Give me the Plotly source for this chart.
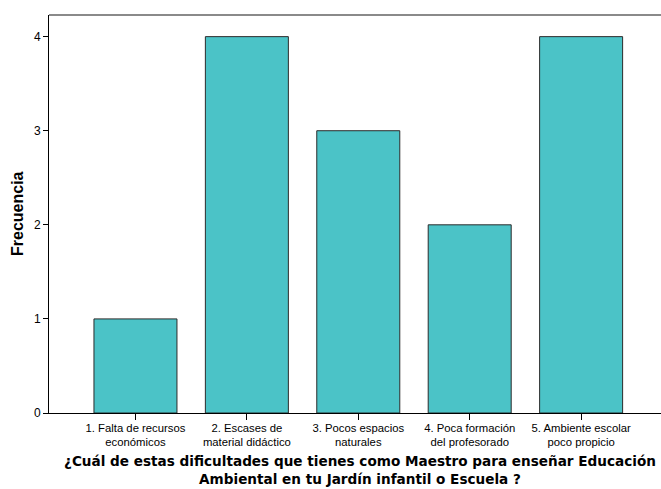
import plotly.graph_objects as go

categories = [
    "1. Falta de recursos<br>económicos",
    "2. Escases de<br>material didáctico",
    "3. Pocos espacios<br>naturales",
    "4. Poca formación<br>del profesorado",
    "5. Ambiente escolar<br>poco propicio",
]
frecuencia = [1, 4, 3, 2, 4]
y_ticks = [0, 1, 2, 3, 4]

x_title = "¿Cuál de estas dificultades que tienes como Maestro para enseñar Educación<br>Ambiental en tu Jardín infantil o Escuela ?"
y_title = "Frecuencia"

W, H = 661, 489
ML, MR, MT, MB = 49, 0, 15, 76
PW = W - ML - MR

fig = go.Figure(
    go.Bar(
        x=list(range(len(categories))),
        y=frecuencia,
        width=0.745,
        marker=dict(color="#4BC3C7", line=dict(color="#2b2b2b", width=1)),
        hoverinfo="skip",
    )
)

fig.update_layout(
    width=W,
    height=H,
    margin=dict(l=ML, r=MR, t=MT, b=MB, pad=0),
    paper_bgcolor="white",
    plot_bgcolor="white",
    showlegend=False,
    font=dict(family="Liberation Sans, Arial, sans-serif", color="black"),
    xaxis=dict(
        range=[-0.776, 4.717],
        tickmode="array",
        tickvals=list(range(len(categories))),
        ticktext=categories,
        ticks="outside",
        ticklen=6,
        tickwidth=1,
        tickcolor="black",
        ticklabelstandoff=-2,
        showline=True,
        linecolor="black",
        linewidth=1,
        showgrid=False,
        zeroline=False,
        tickfont=dict(size=11.3, family="Liberation Sans, Arial, sans-serif"),
        fixedrange=True,
    ),
    yaxis=dict(
        range=[0, 4.23],
        tickmode="array",
        tickvals=y_ticks,
        ticktext=[str(v) for v in y_ticks],
        ticks="outside",
        ticklen=5,
        tickwidth=1,
        tickcolor="black",
        showline=True,
        linecolor="black",
        linewidth=1,
        showgrid=False,
        zeroline=False,
        tickfont=dict(size=12, family="Liberation Sans, Arial, sans-serif"),
        fixedrange=True,
    ),
    shapes=[
        dict(type="line", xref="paper", yref="paper", x0=0, x1=1, y0=1, y1=1,
             line=dict(color="#8a8a8a", width=2)),
    ],
    annotations=[
        dict(text=y_title, xref="paper", yref="paper", x=0, y=0.5,
             xshift=-32, textangle=-90, showarrow=False,
             xanchor="center", yanchor="middle",
             font=dict(size=16, family="Liberation Sans, Arial, sans-serif", weight="bold")),
        dict(text=x_title, xref="paper", yref="paper", x=(360 - ML) / PW, y=0,
             yshift=-(469.5 - (H - MB)), showarrow=False, xanchor="center", yanchor="middle",
             align="center",
             font=dict(size=13.6, family="DejaVu Sans, Verdana, sans-serif", weight="bold")),
    ],
)

fig.write_html(
    "out.html",
    config={"displayModeBar": False},
    post_script="document.body.style.margin='0px';document.body.style.padding='0px';",
)
